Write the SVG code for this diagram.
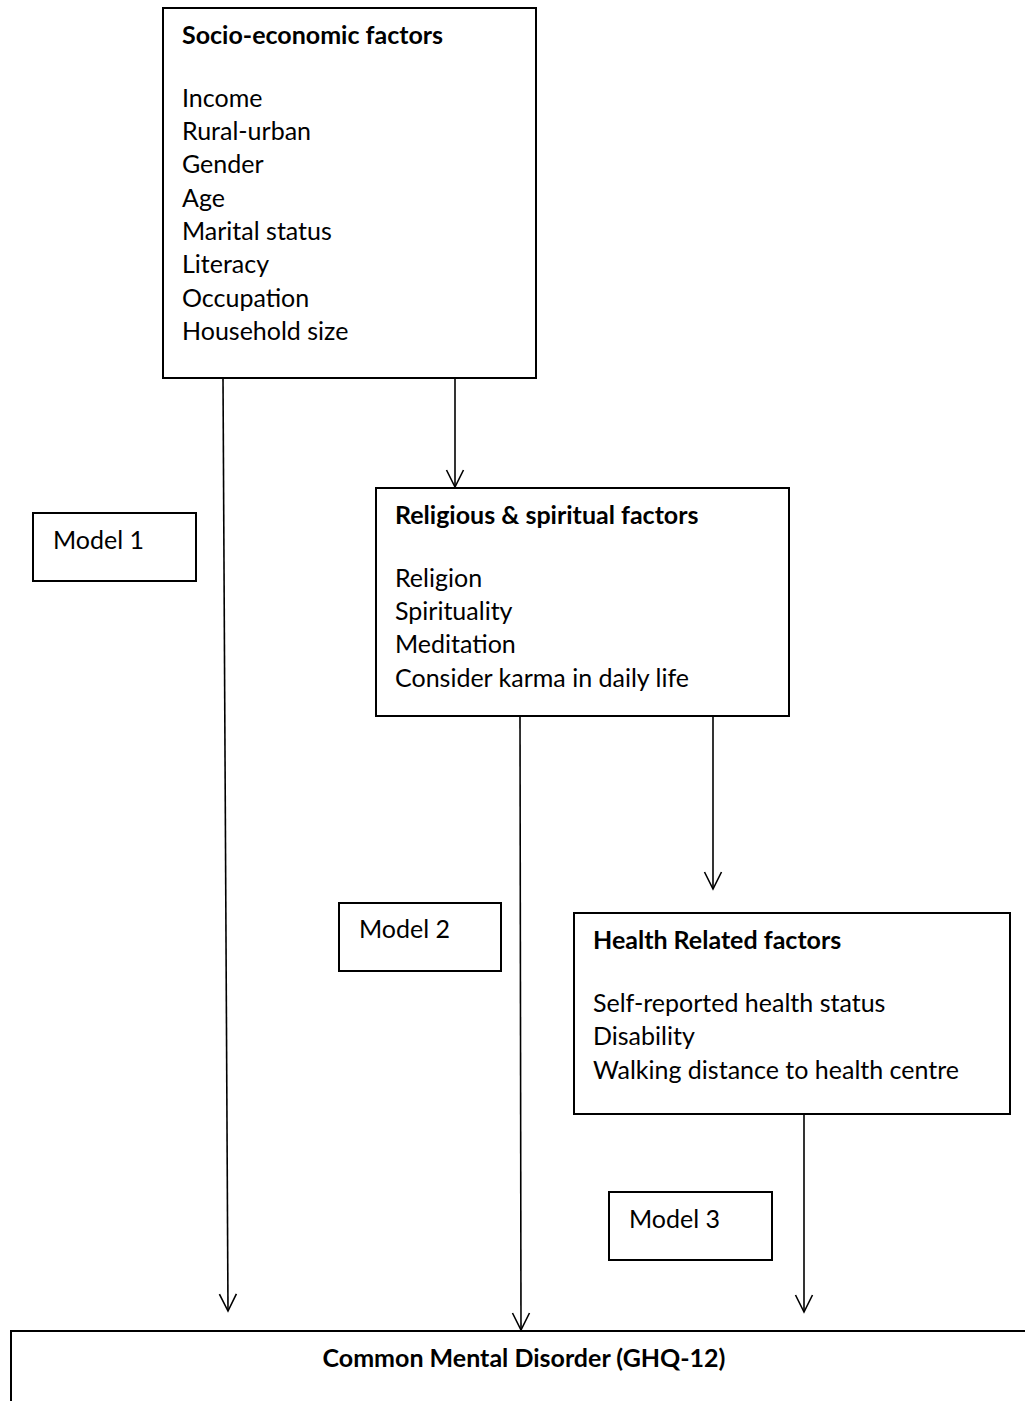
<svg xmlns="http://www.w3.org/2000/svg" width="1025" height="1401" viewBox="0 0 1025 1401">
<defs>
<style>
.box{fill:#fff;stroke:#000;stroke-width:2}
.t{font-family:Lato,"Open Sans","Liberation Sans",sans-serif;font-size:25px;fill:#000}
.b{font-weight:bold}
.c{fill:none;stroke:#000;stroke-width:1.6}
</style>
<marker id="ah" markerUnits="userSpaceOnUse" markerWidth="22" markerHeight="24" viewBox="-19 -12 22 24" refX="0" refY="0" orient="auto">
<path d="M-17,-8.5 L0,0 L-17,8.5" fill="none" stroke="#000" stroke-width="1.6"/>
</marker>
</defs>
<rect width="1025" height="1401" fill="#fff"/>
<g id="connectors">
<line class="c" x1="223" y1="378" x2="228" y2="1311" marker-end="url(#ah)"/>
<line class="c" x1="455" y1="378" x2="455" y2="487" marker-end="url(#ah)"/>
<line class="c" x1="520" y1="716" x2="521" y2="1330" marker-end="url(#ah)"/>
<line class="c" x1="713" y1="716" x2="713" y2="889" marker-end="url(#ah)"/>
<line class="c" x1="804" y1="1114" x2="804" y2="1312" marker-end="url(#ah)"/>
</g>
<g id="socio">
<rect class="box" x="163" y="8" width="373" height="370"/>
<text class="t b" x="182" y="44">Socio-economic factors</text>
<text class="t" x="182" y="107">Income</text>
<text class="t" x="182" y="140">Rural-urban</text>
<text class="t" x="182" y="173">Gender</text>
<text class="t" x="182" y="207">Age</text>
<text class="t" x="182" y="240">Marital status</text>
<text class="t" x="182" y="273">Literacy</text>
<text class="t" x="182" y="307">Occupation</text>
<text class="t" x="182" y="340">Household size</text>
</g>
<g id="religious">
<rect class="box" x="376" y="488" width="413" height="228"/>
<text class="t b" x="395" y="524">Religious &amp; spiritual factors</text>
<text class="t" x="395" y="587">Religion</text>
<text class="t" x="395" y="620">Spirituality</text>
<text class="t" x="395" y="653">Meditation</text>
<text class="t" x="395" y="687">Consider karma in daily life</text>
</g>
<g id="health">
<rect class="box" x="574" y="913" width="436" height="201"/>
<text class="t b" x="593" y="949">Health Related factors</text>
<text class="t" x="593" y="1012">Self-reported health status</text>
<text class="t" x="593" y="1045">Disability</text>
<text class="t" x="593" y="1079">Walking distance to health centre</text>
</g>
<g id="model1">
<rect class="box" x="33" y="513" width="163" height="68"/>
<text class="t" x="53" y="549">Model 1</text>
</g>
<g id="model2">
<rect class="box" x="339" y="903" width="162" height="68"/>
<text class="t" x="359" y="938">Model 2</text>
</g>
<g id="model3">
<rect class="box" x="609" y="1192" width="163" height="68"/>
<text class="t" x="629" y="1228">Model 3</text>
</g>
<g id="cmd">
<rect class="box" x="11" y="1331" width="1030" height="100"/>
<text class="t b" x="524" y="1367" text-anchor="middle">Common Mental Disorder (GHQ-12)</text>
</g>
</svg>
